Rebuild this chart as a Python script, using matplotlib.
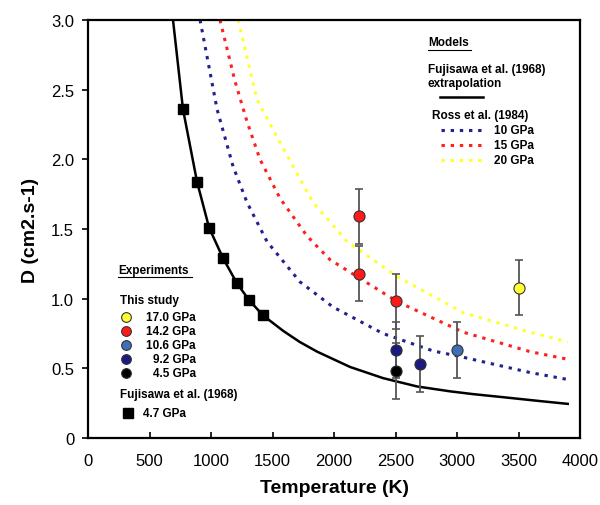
import matplotlib
matplotlib.use("Agg")
import matplotlib.pyplot as plt

plt.rcParams["font.family"] = ["Liberation Sans", "DejaVu Sans"]

# Fujisawa et al. (1968) extrapolation (black solid curve)
fuj_T = [691, 772, 886, 984, 1098, 1211, 1309, 1423, 1585, 1720, 1862, 2130,
         2398, 2675, 2943, 3130, 3406, 3675, 3900]
fuj_D = [3.0, 2.36, 1.84, 1.51, 1.29, 1.11, 0.99, 0.88, 0.77, 0.69, 0.62, 0.51,
         0.43, 0.37, 0.335, 0.315, 0.29, 0.265, 0.245]

# Fujisawa et al. (1968) data, 4.7 GPa
sq_T = [772, 886, 984, 1098, 1211, 1309, 1423]
sq_D = [2.36, 1.84, 1.51, 1.29, 1.11, 0.99, 0.88]

# Ross et al. (1984) models
ross10_T = [911, 1049, 1179, 1293, 1455, 1724, 1992, 2398, 2805, 3049, 3593, 3900]
ross10_D = [3.0, 2.36, 1.95, 1.69, 1.41, 1.12, 0.94, 0.75, 0.625, 0.58, 0.47, 0.42]
ross15_T = [1073, 1195, 1293, 1398, 1561, 1780, 1967, 2512, 3049, 3593, 3900]
ross15_D = [3.0, 2.56, 2.27, 2.0, 1.72, 1.45, 1.28, 0.98, 0.76, 0.62, 0.565]
ross20_T = [1220, 1374, 1561, 1829, 2106, 2512, 3049, 3593, 3900]
ross20_D = [3.0, 2.43, 2.12, 1.69, 1.41, 1.16, 0.90, 0.76, 0.69]

# This study
exp_labels = ["17.0 GPa", "14.2 GPa", "10.6 GPa", "9.2 GPa", "4.5 GPa"]
exp_colors = ["#ffff33", "#ff1a1a", "#3f6fb8", "#1a1a80", "#000000"]
exp_T = [[3500], [2200, 2200, 2500], [3000], [2500, 2700], [2500]]
exp_D = [[1.08], [1.59, 1.18, 0.98], [0.63], [0.63, 0.53], [0.48]]
exp_err = 0.2

fig = plt.figure(figsize=(6.0, 5.06), dpi=100)
ax = fig.add_axes([0.1467, 0.1324, 0.82, 0.8261])

ax.plot(fuj_T, fuj_D, color="black", lw=1.8, zorder=3)
dash = (0, (1.1, 1.9))
ax.plot(ross10_T, ross10_D, color="#22228f", lw=2.2, ls=dash, zorder=2)
ax.plot(ross15_T, ross15_D, color="#ff2020", lw=2.2, ls=dash, zorder=2)
ax.plot(ross20_T, ross20_D, color="#ffff30", lw=2.2, ls=dash, zorder=2)
ax.plot(sq_T, sq_D, ls="none", marker="s", ms=7, color="black", zorder=4)

for T, D, c in zip(exp_T, exp_D, exp_colors):
    ax.errorbar(T, D, yerr=exp_err, fmt="none", ecolor="#555555",
                elinewidth=1.3, capsize=3, capthick=1.2, zorder=4)
    ax.plot(T, D, ls="none", marker="o", ms=8, mfc=c, mec="#333333",
            mew=0.8, zorder=5)

ax.set_xlim(0, 4000)
ax.set_ylim(0, 3.0)
ax.set_xticks(range(0, 4001, 500))
ax.set_yticks([0, 0.5, 1.0, 1.5, 2.0, 2.5, 3.0])
ax.set_yticklabels(["0", "0.5", "1.0", "1.5", "2.0", "2.5", "3.0"])
ax.tick_params(axis="x", direction="in", length=4, width=1.2, labelsize=12, pad=11)
ax.tick_params(axis="y", direction="out", length=4, width=1.2, labelsize=12, pad=6)
for s in ax.spines.values():
    s.set_linewidth(1.6)
ax.set_xlabel("Temperature (K)", fontsize=14, fontweight="bold", labelpad=8)
ax.set_ylabel("D (cm2.s-1)", fontsize=14, fontweight="bold", labelpad=9)

# Models legend
tr = ax.transAxes
fs = 8.5
ax.text(0.691, 0.947, "Models", transform=tr, fontsize=fs, fontweight="bold",
        va="center")
ax.plot([0.691, 0.779], [0.929, 0.929], transform=tr, color="black", lw=0.8)
ax.text(0.691, 0.883, "Fujisawa et al. (1968)", transform=tr, fontsize=fs,
        fontweight="bold", va="center")
ax.text(0.691, 0.849, "extrapolation", transform=tr, fontsize=fs,
        fontweight="bold", va="center")
ax.plot([0.715, 0.803], [0.816, 0.816], transform=tr, color="black", lw=1.8)
ax.text(0.699, 0.773, "Ross et al. (1984)", transform=tr, fontsize=fs,
        fontweight="bold", va="center")
for yy, c, lab in [(0.737, "#22228f", "10 GPa"), (0.701, "#ff2020", "15 GPa"),
                   (0.665, "#ffff30", "20 GPa")]:
    ax.plot([0.717, 0.801], [yy, yy], transform=tr, color=c, lw=2.2, ls=dash)
    ax.text(0.825, yy, lab, transform=tr, fontsize=fs, fontweight="bold",
            va="center")

# Experiments legend
ax.text(0.061, 0.402, "Experiments", transform=tr, fontsize=fs,
        fontweight="bold", va="center")
ax.plot([0.061, 0.211], [0.384, 0.384], transform=tr, color="black", lw=0.8)
ax.text(0.065, 0.330, "This study", transform=tr, fontsize=fs,
        fontweight="bold", va="center")
for yy, c, lab in zip([0.289, 0.256, 0.222, 0.189, 0.156], exp_colors, exp_labels):
    ax.plot([0.077], [yy], transform=tr, ls="none", marker="o", ms=7, mfc=c,
            mec="#333333", mew=0.8, clip_on=False)
    ax.text(0.219, yy, lab, transform=tr, fontsize=fs, fontweight="bold",
            va="center", ha="right")
ax.text(0.065, 0.105, "Fujisawa et al. (1968)", transform=tr, fontsize=fs,
        fontweight="bold", va="center")
ax.plot([0.081], [0.060], transform=tr, ls="none", marker="s", ms=7,
        color="black")
ax.text(0.112, 0.060, "4.7 GPa", transform=tr, fontsize=fs, fontweight="bold",
        va="center")

fig.savefig("out.png", dpi=100, facecolor="white")
